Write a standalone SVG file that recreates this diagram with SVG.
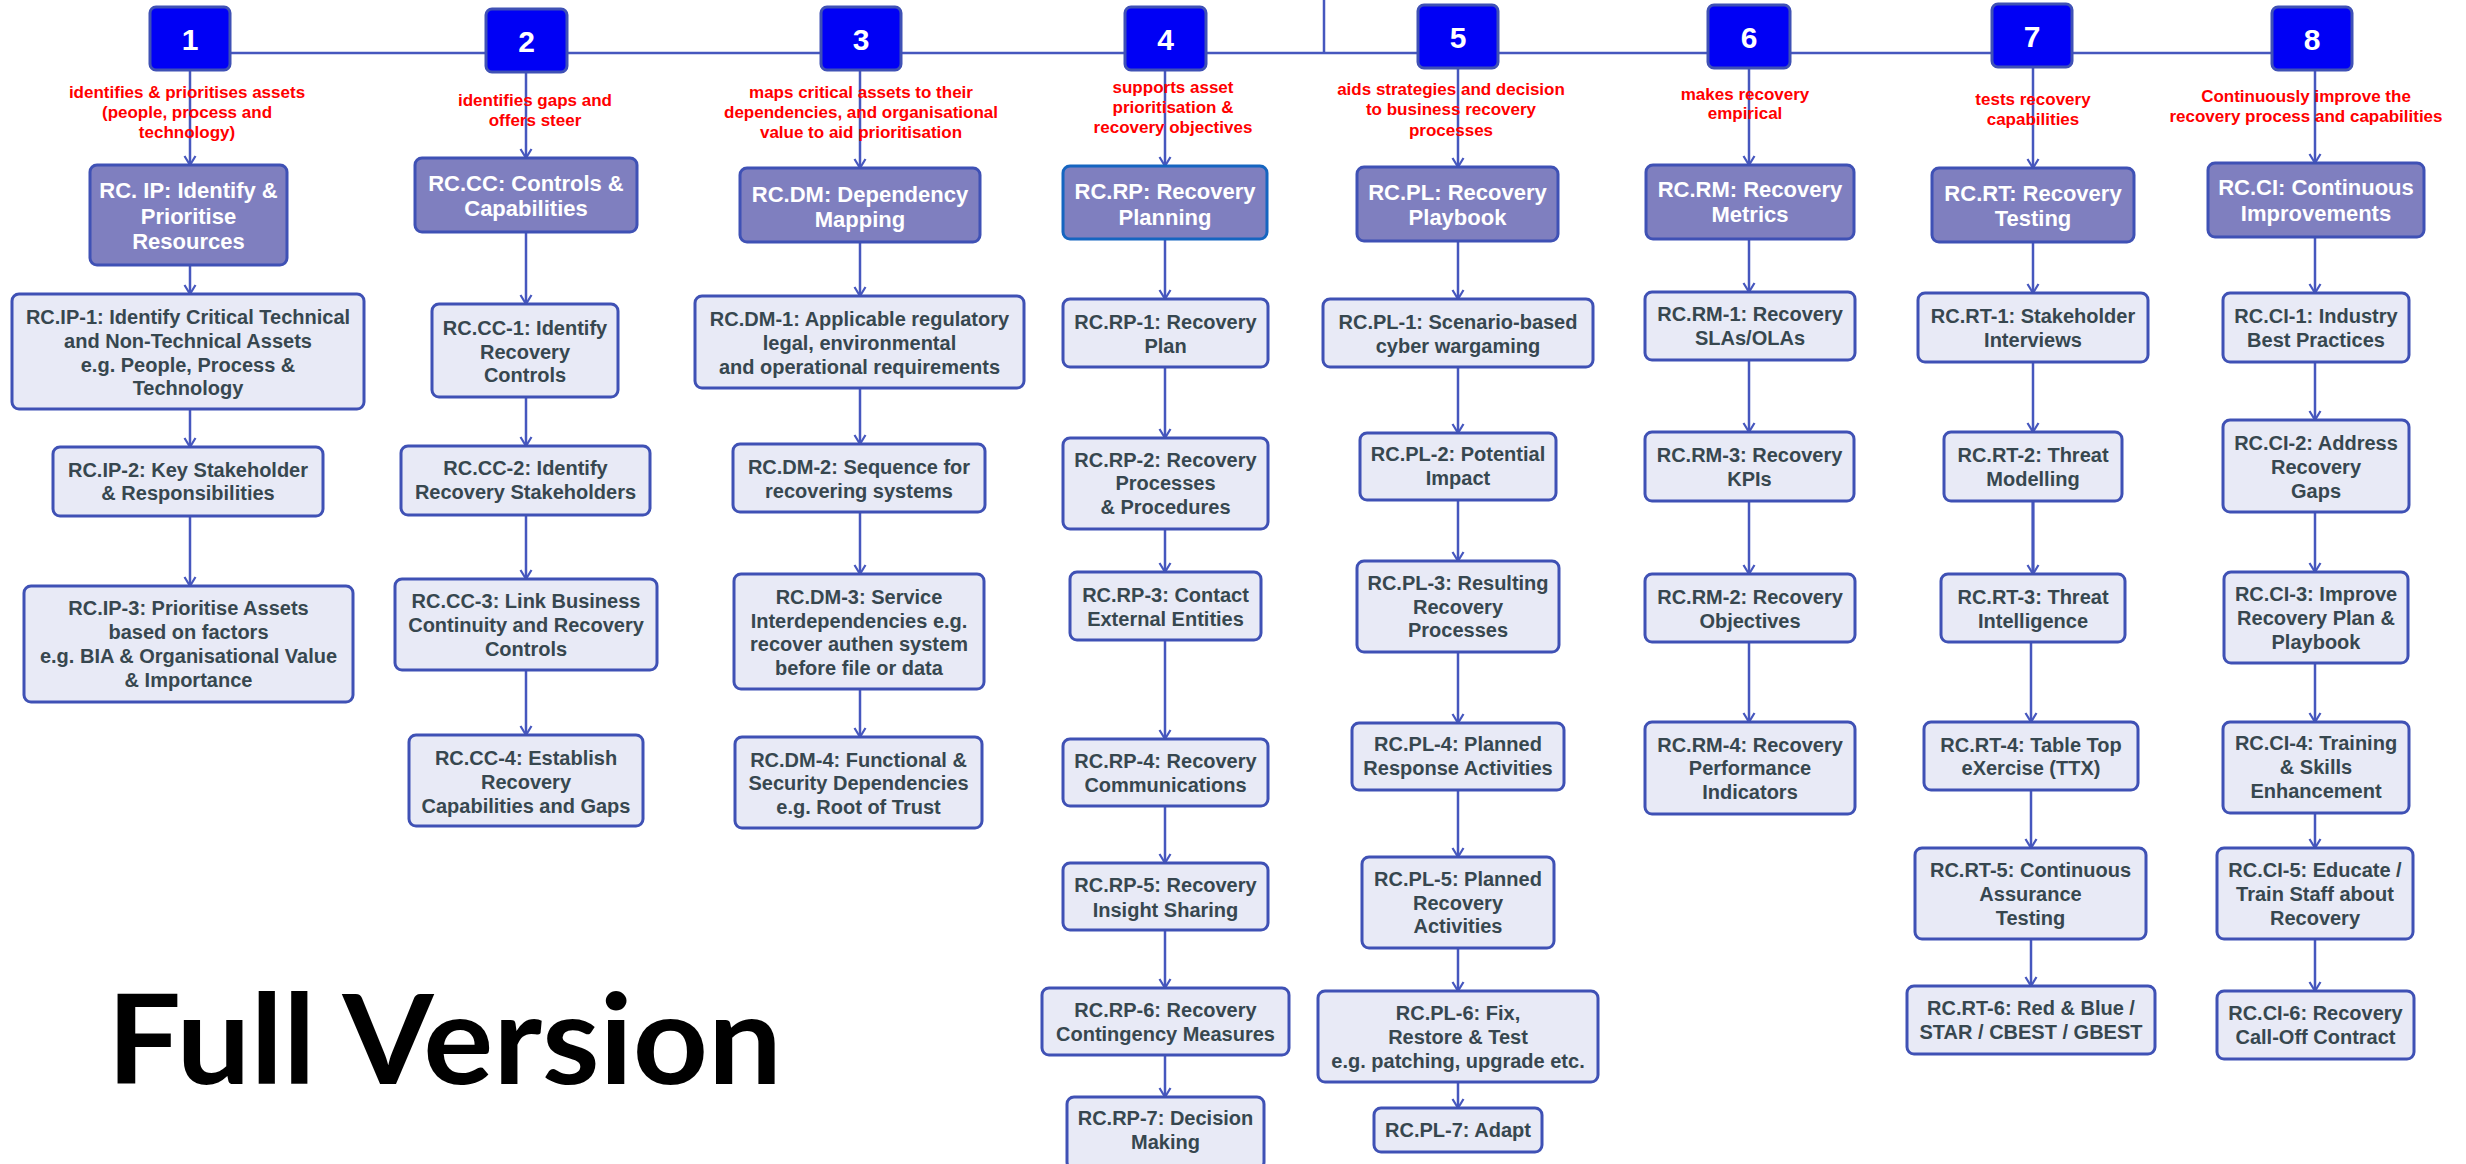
<svg xmlns="http://www.w3.org/2000/svg" width="2466" height="1164" viewBox="0 0 2466 1164">
  <defs>
    <style>
      text { font-family: "Liberation Sans", Arial, sans-serif; font-weight: bold; text-anchor: middle; }
      .num rect { fill: #0000F5; stroke: #3F51B5; stroke-width: 3; }
      .num text { fill: #FFFFFF; font-size: 30px; }
      .cat rect { fill: #7F7FBF; stroke: #3F51B5; stroke-width: 3; }
      .cat text { fill: #FFFFFF; font-size: 22px; }
      .sub rect { fill: #E8EAF6; stroke: #3F51B5; stroke-width: 3; }
      .sub text { fill: #37474F; font-size: 20px; }
      .lbl text { fill: #FF0000; font-size: 17px; }
      .conn line, .conn path { stroke: #4657BE; stroke-width: 2.5; fill: none; }
      .conn line { marker-end: url(#arrow); }
    </style>
    <marker id="arrow" markerUnits="userSpaceOnUse" markerWidth="14" markerHeight="14" viewBox="-12 -7 14 14" refX="0" refY="0" orient="auto">
      <path d="M-9,-5.5 L0,0 L-9,5.5" fill="none" stroke="#4657BE" stroke-width="2.2"/>
    </marker>
  </defs>

  <rect width="2466" height="1164" fill="#FFFFFF"/>

  <!-- connectors -->
  <g id="connectors" class="conn">
    <path d="M1324,0 V52.5 M190,53 H2312"/>
    <!-- 1: IP -->
    <line x1="190" y1="70" x2="190" y2="165"/>
    <line x1="190" y1="265" x2="190" y2="294"/>
    <line x1="190" y1="409" x2="190" y2="447"/>
    <line x1="190" y1="516" x2="190" y2="586"/>
    <!-- 2: CC -->
    <line x1="526" y1="72" x2="526" y2="158"/>
    <line x1="526" y1="232" x2="526" y2="304"/>
    <line x1="526" y1="397" x2="526" y2="446"/>
    <line x1="526" y1="515" x2="526" y2="579"/>
    <line x1="526" y1="670" x2="526" y2="735"/>
    <!-- 3: DM -->
    <line x1="860" y1="70" x2="860" y2="168"/>
    <line x1="860" y1="242" x2="860" y2="296"/>
    <line x1="860" y1="388" x2="860" y2="444"/>
    <line x1="860" y1="512" x2="860" y2="574"/>
    <line x1="860" y1="689" x2="860" y2="737"/>
    <!-- 4: RP -->
    <line x1="1165" y1="70" x2="1165" y2="166"/>
    <line x1="1165" y1="239" x2="1165" y2="299"/>
    <line x1="1165" y1="367" x2="1165" y2="438"/>
    <line x1="1165" y1="529" x2="1165" y2="572"/>
    <line x1="1165" y1="640" x2="1165" y2="739"/>
    <line x1="1165" y1="806" x2="1165" y2="863"/>
    <line x1="1165" y1="930" x2="1165" y2="988"/>
    <line x1="1165" y1="1055" x2="1165" y2="1097"/>
    <!-- 5: PL -->
    <line x1="1458" y1="68" x2="1458" y2="167"/>
    <line x1="1458" y1="241" x2="1458" y2="299"/>
    <line x1="1458" y1="367" x2="1458" y2="433"/>
    <line x1="1458" y1="500" x2="1458" y2="561"/>
    <line x1="1458" y1="652" x2="1458" y2="723"/>
    <line x1="1458" y1="790" x2="1458" y2="857"/>
    <line x1="1458" y1="948" x2="1458" y2="991"/>
    <line x1="1458" y1="1082" x2="1458" y2="1108"/>
    <!-- 6: RM -->
    <line x1="1749" y1="68" x2="1749" y2="165"/>
    <line x1="1749" y1="239" x2="1749" y2="292"/>
    <line x1="1749" y1="360" x2="1749" y2="432"/>
    <line x1="1749" y1="501" x2="1749" y2="574"/>
    <line x1="1749" y1="642" x2="1749" y2="722"/>
    <!-- 7: RT -->
    <line x1="2033" y1="67" x2="2033" y2="168"/>
    <line x1="2033" y1="242" x2="2033" y2="293"/>
    <line x1="2033" y1="362" x2="2033" y2="432"/>
    <line x1="2033" y1="501" x2="2033" y2="574" style="stroke-width:3.2"/>
    <line x1="2031" y1="642" x2="2031" y2="722"/>
    <line x1="2031" y1="790" x2="2031" y2="848"/>
    <line x1="2031" y1="939" x2="2031" y2="986"/>
    <!-- 8: CI -->
    <line x1="2315" y1="70" x2="2315" y2="163"/>
    <line x1="2315" y1="237" x2="2315" y2="293"/>
    <line x1="2315" y1="362" x2="2315" y2="420"/>
    <line x1="2315" y1="512" x2="2315" y2="572"/>
    <line x1="2315" y1="663" x2="2315" y2="722"/>
    <line x1="2315" y1="813" x2="2315" y2="848"/>
    <line x1="2315" y1="939" x2="2315" y2="991"/>
  </g>

  <!-- phase numbers -->
  <g id="n1" class="num"><rect x="150" y="7" width="80" height="63" rx="6"/><text x="190" y="50">1</text></g>
  <g id="n2" class="num"><rect x="486" y="9" width="81" height="63" rx="6"/><text x="526.5" y="52">2</text></g>
  <g id="n3" class="num"><rect x="821" y="7" width="80" height="63" rx="6"/><text x="861" y="50">3</text></g>
  <g id="n4" class="num"><rect x="1125" y="7" width="81" height="63" rx="6"/><text x="1165.5" y="50">4</text></g>
  <g id="n5" class="num"><rect x="1418" y="5" width="80" height="63" rx="6"/><text x="1458" y="48">5</text></g>
  <g id="n6" class="num"><rect x="1708" y="5" width="82" height="63" rx="6"/><text x="1749" y="48">6</text></g>
  <g id="n7" class="num"><rect x="1992" y="4" width="80" height="63" rx="6"/><text x="2032" y="47">7</text></g>
  <g id="n8" class="num"><rect x="2272" y="7" width="80" height="63" rx="6"/><text x="2312" y="50">8</text></g>

  <!-- phase descriptions -->
  <g id="l1" class="lbl"><text x="187" y="98">identifies &amp; prioritises assets</text><text x="187" y="118">(people, process and</text><text x="187" y="138">technology)</text></g>
  <g id="l2" class="lbl"><text x="535" y="106">identifies gaps and</text><text x="535" y="126">offers steer</text></g>
  <g id="l3" class="lbl"><text x="861" y="98">maps critical assets to their</text><text x="861" y="118">dependencies, and organisational</text><text x="861" y="138">value to aid prioritisation</text></g>
  <g id="l4" class="lbl"><text x="1173" y="93">supports asset</text><text x="1173" y="113">prioritisation &amp;</text><text x="1173" y="133">recovery objectives</text></g>
  <g id="l5" class="lbl"><text x="1451" y="95">aids strategies and decision</text><text x="1451" y="115">to business recovery</text><text x="1451" y="136">processes</text></g>
  <g id="l6" class="lbl"><text x="1745" y="100">makes recovery</text><text x="1745" y="119">empirical</text></g>
  <g id="l7" class="lbl"><text x="2033" y="105">tests recovery</text><text x="2033" y="125">capabilities</text></g>
  <g id="l8" class="lbl"><text x="2306" y="102">Continuously improve the</text><text x="2306" y="122">recovery process and capabilities</text></g>

  <!-- column 1: identify & prioritise -->
  <g id="rc-ip" class="cat"><rect x="90" y="165" width="197" height="100" rx="7"/><text x="188.5" y="198">RC. IP: Identify &amp;</text><text x="188.5" y="224">Prioritise</text><text x="188.5" y="249">Resources</text></g>
  <g id="rc-ip-1" class="sub"><rect x="12" y="294" width="352" height="115" rx="7"/><text x="188" y="324">RC.IP-1: Identify Critical Technical</text><text x="188" y="348">and Non-Technical Assets</text><text x="188" y="372">e.g. People, Process &amp;</text><text x="188" y="395">Technology</text></g>
  <g id="rc-ip-2" class="sub"><rect x="53" y="447" width="270" height="69" rx="7"/><text x="188" y="477">RC.IP-2: Key Stakeholder</text><text x="188" y="500">&amp; Responsibilities</text></g>
  <g id="rc-ip-3" class="sub"><rect x="24" y="586" width="329" height="116" rx="7"/><text x="188.5" y="615">RC.IP-3: Prioritise Assets</text><text x="188.5" y="639">based on factors</text><text x="188.5" y="663">e.g. BIA &amp; Organisational Value</text><text x="188.5" y="687">&amp; Importance</text></g>

  <!-- column 2: controls & capabilities -->
  <g id="rc-cc" class="cat"><rect x="415" y="158" width="222" height="74" rx="7"/><text x="526" y="191">RC.CC: Controls &amp;</text><text x="526" y="216">Capabilities</text></g>
  <g id="rc-cc-1" class="sub"><rect x="432" y="304" width="186" height="93" rx="7"/><text x="525" y="335">RC.CC-1: Identify</text><text x="525" y="359">Recovery</text><text x="525" y="382">Controls</text></g>
  <g id="rc-cc-2" class="sub"><rect x="401" y="446" width="249" height="69" rx="7"/><text x="525.5" y="475">RC.CC-2: Identify</text><text x="525.5" y="499">Recovery Stakeholders</text></g>
  <g id="rc-cc-3" class="sub"><rect x="395" y="579" width="262" height="91" rx="7"/><text x="526" y="608">RC.CC-3: Link Business</text><text x="526" y="632">Continuity and Recovery</text><text x="526" y="656">Controls</text></g>
  <g id="rc-cc-4" class="sub"><rect x="409" y="735" width="234" height="91" rx="7"/><text x="526" y="765">RC.CC-4: Establish</text><text x="526" y="789">Recovery</text><text x="526" y="813">Capabilities and Gaps</text></g>

  <!-- column 3: dependency mapping -->
  <g id="rc-dm" class="cat"><rect x="740" y="168" width="240" height="74" rx="7"/><text x="860" y="202">RC.DM: Dependency</text><text x="860" y="227">Mapping</text></g>
  <g id="rc-dm-1" class="sub"><rect x="695" y="296" width="329" height="92" rx="7"/><text x="859.5" y="326">RC.DM-1: Applicable regulatory</text><text x="859.5" y="350">legal, environmental</text><text x="859.5" y="374">and operational requirements</text></g>
  <g id="rc-dm-2" class="sub"><rect x="733" y="444" width="252" height="68" rx="7"/><text x="859" y="474">RC.DM-2: Sequence for</text><text x="859" y="498">recovering systems</text></g>
  <g id="rc-dm-3" class="sub"><rect x="734" y="574" width="250" height="115" rx="7"/><text x="859" y="604">RC.DM-3: Service</text><text x="859" y="628">Interdependencies e.g.</text><text x="859" y="651">recover authen system</text><text x="859" y="675">before file or data</text></g>
  <g id="rc-dm-4" class="sub"><rect x="735" y="737" width="247" height="91" rx="7"/><text x="858.5" y="767">RC.DM-4: Functional &amp;</text><text x="858.5" y="790">Security Dependencies</text><text x="858.5" y="814">e.g. Root of Trust</text></g>

  <!-- column 4: recovery planning -->
  <g id="rc-rp" class="cat"><rect x="1063" y="166" width="204" height="73" rx="7" style="stroke:#1565C0"/><text x="1165" y="199">RC.RP: Recovery</text><text x="1165" y="225">Planning</text></g>
  <g id="rc-rp-1" class="sub"><rect x="1063" y="299" width="205" height="68" rx="7"/><text x="1165.5" y="329">RC.RP-1: Recovery</text><text x="1165.5" y="353">Plan</text></g>
  <g id="rc-rp-2" class="sub"><rect x="1063" y="438" width="205" height="91" rx="7"/><text x="1165.5" y="467">RC.RP-2: Recovery</text><text x="1165.5" y="490">Processes</text><text x="1165.5" y="514">&amp; Procedures</text></g>
  <g id="rc-rp-3" class="sub"><rect x="1070" y="572" width="191" height="68" rx="7"/><text x="1165.5" y="602">RC.RP-3: Contact</text><text x="1165.5" y="626">External Entities</text></g>
  <g id="rc-rp-4" class="sub"><rect x="1063" y="739" width="205" height="67" rx="7"/><text x="1165.5" y="768">RC.RP-4: Recovery</text><text x="1165.5" y="792">Communications</text></g>
  <g id="rc-rp-5" class="sub"><rect x="1063" y="863" width="205" height="67" rx="7"/><text x="1165.5" y="892">RC.RP-5: Recovery</text><text x="1165.5" y="917">Insight Sharing</text></g>
  <g id="rc-rp-6" class="sub"><rect x="1042" y="988" width="247" height="67" rx="7"/><text x="1165.5" y="1017">RC.RP-6: Recovery</text><text x="1165.5" y="1041">Contingency Measures</text></g>
  <g id="rc-rp-7" class="sub"><rect x="1067" y="1097" width="197" height="72" rx="7"/><text x="1165.5" y="1125">RC.RP-7: Decision</text><text x="1165.5" y="1149">Making</text></g>

  <!-- column 5: recovery playbook -->
  <g id="rc-pl" class="cat"><rect x="1357" y="167" width="201" height="74" rx="7"/><text x="1457.5" y="200">RC.PL: Recovery</text><text x="1457.5" y="225">Playbook</text></g>
  <g id="rc-pl-1" class="sub"><rect x="1323" y="299" width="270" height="68" rx="7"/><text x="1458" y="329">RC.PL-1: Scenario-based</text><text x="1458" y="353">cyber wargaming</text></g>
  <g id="rc-pl-2" class="sub"><rect x="1360" y="433" width="196" height="67" rx="7"/><text x="1458" y="461">RC.PL-2: Potential</text><text x="1458" y="485">Impact</text></g>
  <g id="rc-pl-3" class="sub"><rect x="1357" y="561" width="202" height="91" rx="7"/><text x="1458" y="590">RC.PL-3: Resulting</text><text x="1458" y="614">Recovery</text><text x="1458" y="637">Processes</text></g>
  <g id="rc-pl-4" class="sub"><rect x="1352" y="723" width="212" height="67" rx="7"/><text x="1458" y="751">RC.PL-4: Planned</text><text x="1458" y="775">Response Activities</text></g>
  <g id="rc-pl-5" class="sub"><rect x="1362" y="857" width="192" height="91" rx="7"/><text x="1458" y="886">RC.PL-5: Planned</text><text x="1458" y="910">Recovery</text><text x="1458" y="933">Activities</text></g>
  <g id="rc-pl-6" class="sub"><rect x="1318" y="991" width="280" height="91" rx="7"/><text x="1458" y="1020">RC.PL-6: Fix,</text><text x="1458" y="1044">Restore &amp; Test</text><text x="1458" y="1068">e.g. patching, upgrade etc.</text></g>
  <g id="rc-pl-7" class="sub"><rect x="1374" y="1108" width="168" height="44" rx="7"/><text x="1458" y="1137">RC.PL-7: Adapt</text></g>

  <!-- column 6: recovery metrics -->
  <g id="rc-rm" class="cat"><rect x="1646" y="165" width="208" height="74" rx="7"/><text x="1750" y="197">RC.RM: Recovery</text><text x="1750" y="222">Metrics</text></g>
  <g id="rc-rm-1" class="sub"><rect x="1645" y="292" width="210" height="68" rx="7"/><text x="1750" y="321">RC.RM-1: Recovery</text><text x="1750" y="345">SLAs/OLAs</text></g>
  <g id="rc-rm-3" class="sub"><rect x="1645" y="432" width="209" height="69" rx="7"/><text x="1749.5" y="462">RC.RM-3: Recovery</text><text x="1749.5" y="486">KPIs</text></g>
  <g id="rc-rm-2" class="sub"><rect x="1645" y="574" width="210" height="68" rx="7"/><text x="1750" y="604">RC.RM-2: Recovery</text><text x="1750" y="628">Objectives</text></g>
  <g id="rc-rm-4" class="sub"><rect x="1645" y="722" width="210" height="92" rx="7"/><text x="1750" y="752">RC.RM-4: Recovery</text><text x="1750" y="775">Performance</text><text x="1750" y="799">Indicators</text></g>

  <!-- column 7: recovery testing -->
  <g id="rc-rt" class="cat"><rect x="1932" y="168" width="202" height="74" rx="7"/><text x="2033" y="201">RC.RT: Recovery</text><text x="2033" y="226">Testing</text></g>
  <g id="rc-rt-1" class="sub"><rect x="1918" y="293" width="230" height="69" rx="7"/><text x="2033" y="323">RC.RT-1: Stakeholder</text><text x="2033" y="347">Interviews</text></g>
  <g id="rc-rt-2" class="sub"><rect x="1944" y="432" width="178" height="69" rx="7"/><text x="2033" y="462">RC.RT-2: Threat</text><text x="2033" y="486">Modelling</text></g>
  <g id="rc-rt-3" class="sub"><rect x="1941" y="574" width="184" height="68" rx="7"/><text x="2033" y="604">RC.RT-3: Threat</text><text x="2033" y="628">Intelligence</text></g>
  <g id="rc-rt-4" class="sub"><rect x="1924" y="722" width="214" height="68" rx="7"/><text x="2031" y="752">RC.RT-4: Table Top</text><text x="2031" y="775">eXercise (TTX)</text></g>
  <g id="rc-rt-5" class="sub"><rect x="1915" y="848" width="231" height="91" rx="7"/><text x="2030.5" y="877">RC.RT-5: Continuous</text><text x="2030.5" y="901">Assurance</text><text x="2030.5" y="925">Testing</text></g>
  <g id="rc-rt-6" class="sub"><rect x="1907" y="986" width="248" height="68" rx="7"/><text x="2031" y="1015">RC.RT-6: Red &amp; Blue /</text><text x="2031" y="1039">STAR / CBEST / GBEST</text></g>

  <!-- column 8: continuous improvements -->
  <g id="rc-ci" class="cat"><rect x="2208" y="163" width="216" height="74" rx="7"/><text x="2316" y="195">RC.CI: Continuous</text><text x="2316" y="221">Improvements</text></g>
  <g id="rc-ci-1" class="sub"><rect x="2223" y="293" width="186" height="69" rx="7"/><text x="2316" y="323">RC.CI-1: Industry</text><text x="2316" y="347">Best Practices</text></g>
  <g id="rc-ci-2" class="sub"><rect x="2223" y="420" width="186" height="92" rx="7"/><text x="2316" y="450">RC.CI-2: Address</text><text x="2316" y="474">Recovery</text><text x="2316" y="498">Gaps</text></g>
  <g id="rc-ci-3" class="sub"><rect x="2224" y="572" width="184" height="91" rx="7"/><text x="2316" y="601">RC.CI-3: Improve</text><text x="2316" y="625">Recovery Plan &amp;</text><text x="2316" y="649">Playbook</text></g>
  <g id="rc-ci-4" class="sub"><rect x="2223" y="722" width="186" height="91" rx="7"/><text x="2316" y="750">RC.CI-4: Training</text><text x="2316" y="774">&amp; Skills</text><text x="2316" y="798">Enhancement</text></g>
  <g id="rc-ci-5" class="sub"><rect x="2217" y="848" width="196" height="91" rx="7"/><text x="2315" y="877">RC.CI-5: Educate /</text><text x="2315" y="901">Train Staff about</text><text x="2315" y="925">Recovery</text></g>
  <g id="rc-ci-6" class="sub"><rect x="2217" y="991" width="197" height="68" rx="7"/><text x="2315.5" y="1020">RC.CI-6: Recovery</text><text x="2315.5" y="1044">Call-Off Contract</text></g>

  <!-- version caption -->
  <text x="107" y="1084" style="font-family: Lato, 'Open Sans', sans-serif; font-size: 125px; text-anchor: start; fill: #000000;" textLength="675" lengthAdjust="spacingAndGlyphs">Full Version</text>
</svg>
